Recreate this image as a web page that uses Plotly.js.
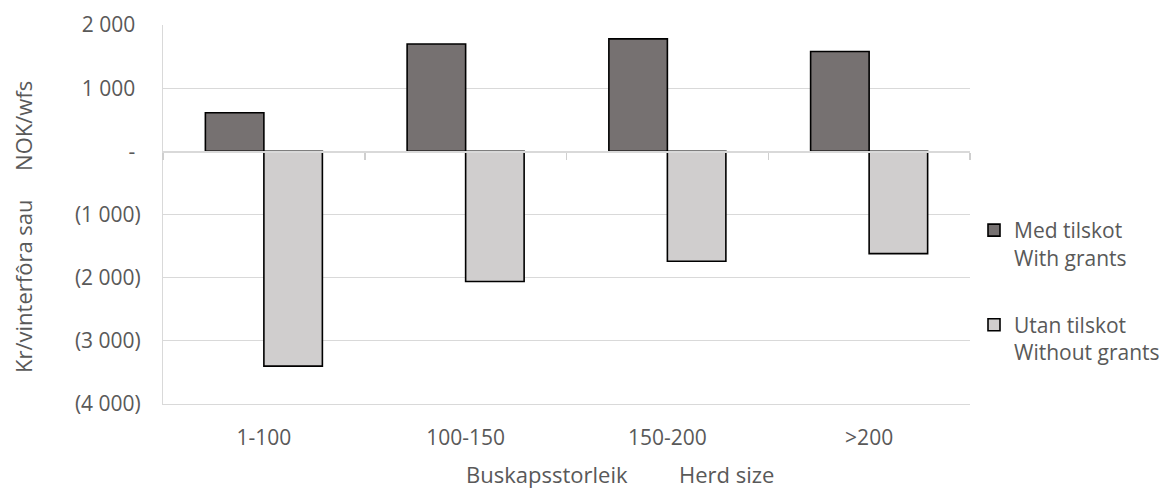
<!DOCTYPE html>
<html>
<head>
<meta charset="utf-8">
<script src="https://cdn.plot.ly/plotly-3.0.1.min.js"></script>
<style>html,body{margin:0;padding:0;background:#fff}#chart{width:1163px;height:488px}</style>
</head>
<body>
<div id="chart"></div>
<script>
const categories = ['1-100', '100-150', '150-200', '>200'];
const withGrants = [610, 1700, 1780, 1580];
const withoutGrants = [-3400, -2060, -1740, -1620];
const seriesNames = ['Med tilskot<br>With grants', 'Utan tilskot<br>Without grants'];
const yTickVals = [-4000, -3000, -2000, -1000, 0, 1000, 2000];
const yTickText = ['(4 000)', '(3 000)', '(2 000)', '(1 000)', '-\u00a0', '1 000\u00a0', '2 000\u00a0'];
const xTitle = 'Buskapsstorleik\u00a0\u00a0\u00a0\u00a0\u00a0\u00a0\u00a0\u00a0\u00a0Herd size';
const yTitle = 'Kr/vinterfôra sau\u00a0\u00a0\u00a0\u00a0\u00a0NOK/wfs';

const FONT = 'Open Sans, Noto Sans, sans-serif';
const TXT = '#595959';
const GRID = '#d9d9d9';

const traces = [
  {type: 'bar', x: categories, y: withGrants, name: seriesNames[0], legendgroup: 'a',
   marker: {color: '#767171', line: {color: '#000000', width: 1.6}}, hoverinfo: 'skip'},
  {type: 'bar', x: categories, y: withoutGrants, name: seriesNames[1], legendgroup: 'b',
   marker: {color: '#d0cece', line: {color: '#000000', width: 1.6}}, hoverinfo: 'skip'},
  // carries the category axis drawn along the zero line (no visible marks)
  {type: 'scatter', mode: 'none', x: categories, y: withGrants, xaxis: 'x2', yaxis: 'y',
   showlegend: false, hoverinfo: 'skip'}
];

const layout = {
  width: 1163, height: 488,
  margin: {l: 163, r: 193, t: 25, b: 84, pad: 0},
  paper_bgcolor: '#ffffff', plot_bgcolor: '#ffffff',
  font: {family: FONT, size: 21, color: TXT},
  barmode: 'group', bargap: 0.42, bargroupgap: 0,
  showlegend: true,
  legend: {xref: 'container', yref: 'container', x: 974 / 1163, xanchor: 'left',
           y: 1 - 210 / 488, yanchor: 'top', valign: 'top',
           tracegroupgap: 37, font: {family: FONT, size: 21, color: TXT}, bgcolor: 'rgba(0,0,0,0)'},
  xaxis: {type: 'category', range: [-0.5, categories.length - 0.5], showgrid: false, zeroline: false,
          showline: true, linecolor: GRID, linewidth: 1, ticks: '', ticklabelstandoff: 15,
          tickfont: {family: FONT, size: 21, color: TXT}},
  xaxis2: {type: 'category', overlaying: 'x', anchor: 'free', position: 4000 / 6000,
           range: [-0.5, categories.length - 0.5],
           showgrid: false, zeroline: false, showline: true, linecolor: GRID, linewidth: 1.5,
           tickson: 'boundaries', ticks: 'outside', ticklen: 7, tickcolor: '#cfcfcf',
           tickwidth: 1.5, showticklabels: false},
  yaxis: {range: [-4000, 2000], tickmode: 'array', tickvals: yTickVals, ticktext: yTickText,
          showgrid: true, gridcolor: GRID, gridwidth: 1, zeroline: true, zerolinecolor: GRID,
          zerolinewidth: 1.5, showline: true, linecolor: GRID, linewidth: 1, ticks: '',
          ticklabelstandoff: 17, tickfont: {family: FONT, size: 21, color: TXT}},
  annotations: [
    {text: xTitle, xref: 'paper', yref: 'paper', x: (620 - 163) / 807, y: (404 - 474) / 379,
     xanchor: 'center', yanchor: 'middle', showarrow: false, font: {family: FONT, size: 22, color: TXT}},
    {text: yTitle, xref: 'paper', yref: 'paper', x: (23 - 163) / 807, y: (404 - 227) / 379,
     xanchor: 'center', yanchor: 'middle', textangle: -90, showarrow: false,
     font: {family: FONT, size: 22, color: TXT}}
  ]
};

Plotly.newPlot('chart', traces, layout, {displayModeBar: false, staticPlot: true});
</script>
</body>
</html>
